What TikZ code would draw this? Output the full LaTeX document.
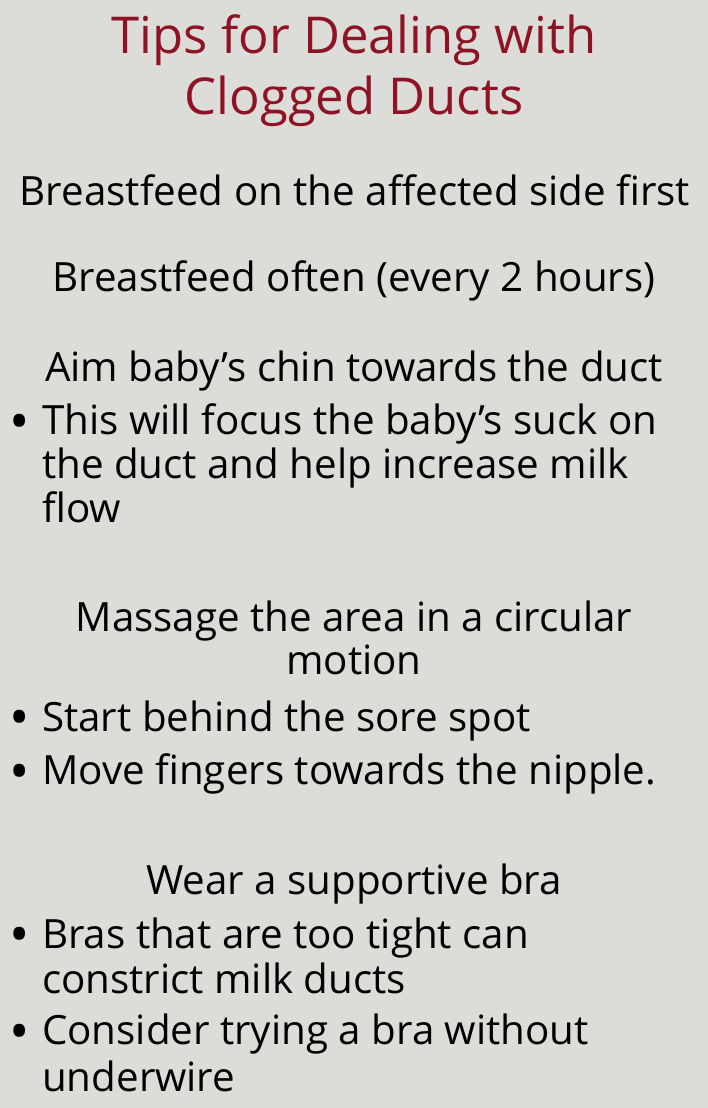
\documentclass[tikz,border=0pt]{standalone}
\usepackage{fontspec}
\setmainfont{Open Sans}
\definecolor{bg}{RGB}{220,220,216}
\definecolor{ttl}{RGB}{142,20,37}
\begin{document}
\begin{tikzpicture}[x=1pt,y=-1pt,
  title/.style={font=\fontsize{50.8}{60}\selectfont, text=ttl, anchor=base, inner sep=0},
  head/.style={font=\fontsize{40.3}{44}\selectfont, anchor=base, inner sep=0},
  item/.style={font=\fontsize{40.3}{44}\selectfont, anchor=base west, inner sep=0},
  dot/.style={font=\fontsize{54}{54}\selectfont, anchor=base, inner sep=0}]
\fill[bg] (0,0) rectangle (708,1108);
\useasboundingbox (0,0) rectangle (708,1108);
\node[title] (t1) at (354,53.5) {Tips for Dealing with};
\node[title] (t2) at (354,114) {Clogged Ducts};
\node[head] (h1) at (355,205) {Breastfeed on the affected side first};
\node[head] (h2) at (354,291.5) {Breastfeed often (every 2 hours)};
\node[head] (h3) at (354,381.5) {Aim baby’s chin towards the duct};
\node[dot] (d1) at (20,440) {•};
\node[item] (i1a) at (42,434.5) {This will focus the baby’s suck on};
\node[item] (i1b) at (42,478.5) {the duct and help increase milk};
\node[item] (i1c) at (42,522) {flow};
\node[head] (h4a) at (354,631) {Massage the area in a circular};
\node[head] (h4b) at (354,674) {motion};
\node[dot] (d2) at (20,736.5) {•};
\node[item] (i2) at (42,731) {Start behind the sore spot};
\node[dot] (d3) at (20,790) {•};
\node[item] (i3) at (42,784.5) {Move fingers towards the nipple.};
\node[head] (h5) at (354,894.5) {Wear a supportive bra};
\node[dot] (d4) at (20,953.5) {•};
\node[item] (i4a) at (42,948) {Bras that are too tight can};
\node[item] (i4b) at (42,993) {constrict milk ducts};
\node[dot] (d5) at (20,1050) {•};
\node[item] (i5a) at (42,1044.5) {Consider trying a bra without};
\node[item] (i5b) at (42,1091) {underwire};
\end{tikzpicture}
\end{document}
